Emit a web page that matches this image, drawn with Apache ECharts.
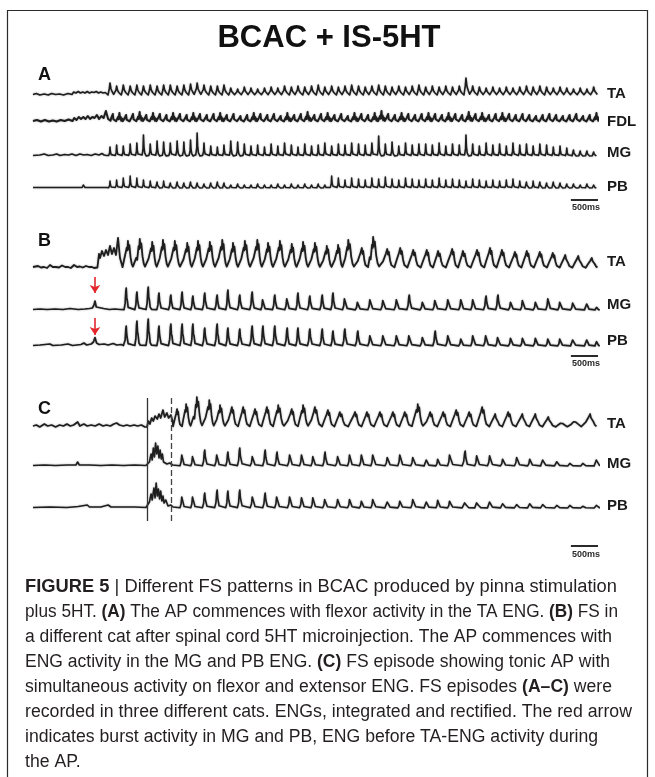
<!DOCTYPE html>
<html>
<head>
<meta charset="utf-8">
<script src="https://cdn.jsdelivr.net/npm/echarts/dist/echarts.min.js"></script>
<style>
html,body{margin:0;padding:0;background:#fff}
#fig{width:655px;height:777px}
</style>
</head>
<body>
<div id="fig"></div>
<script>
// Integrated, rectified ENG records (time in ms, amplitude in display units).
// Each trace: irregular pre-burst vertices, then one value per burst peak.
const SPAN_MS = 10000;

// ---- Panel A ----
const A_times = [1363,1480,1598,1720,1838,1955,2075,2196,2312,2430,
  2551,2670,2788,2905,3026,3146,3263,3380,3500,3622,
  3740,3858,3976,4097,4215,4333,4452,4573,4690,4810,
  4930,5048,5165,5286,5405,5522,5640,5762,5880,5998,
  6118,6236,6355,6474,6593,6712,6830,6950,7068,7188,
  7306,7425,7545,7663,7782,7900,8020,8139,8258,8377,
  8495,8615,8734,8852,8971,9090,9209,9328,9447,9566,
  9685,9804,9923];
const A_TA_pre = [[0,0.5],[60,1.5],[120,0],[200,1],[270,0],[330,1.5],[400,0.5],[470,1],[540,0],[620,1.5],[690,0.5],[720,3],[760,2],[800,3.5],[840,2],[880,3],[920,2],[960,3.5],[1000,2],[1040,3],[1080,2.5],[1120,3.5],[1160,2],[1200,3],[1240,2],[1280,2.5],[1310,1]];
const A_TA_peaks = [12,9,10,9,10,9,10,9,10,10,9,10,11,12,10,9,9,10,
  7,6,8,7,6,7,8,7,9,8,
  9,8,9,10,8,9,8,9,10,9,8,9,10,9,8,9,8,9,10,
  8,9,8,9,8,9,17,
  9,8,7,8,7,8,7,8,9,8,9,8,7,8,7,6,7,6,8];
const A_FDL_pre = [[0,1],[70,2],[140,0.5],[210,2],[280,0.5],[350,1.5],[420,0.5],[490,2],[560,1],[630,2.5],[700,1],[730,4],[770,2],[810,5],[850,3],[890,5],[930,3],[970,6],[1010,3],[1050,5],[1090,4],[1130,7],[1170,3],[1210,6],[1250,4],[1290,11],[1330,3]];
const A_FDL_peaks = [8,9,7,8,10,7,9,8,7,9,8,7,9,8,7,8,9,7,
  8,6,7,9,8,7,8,6,9,7,8,10,7,8,9,7,8,6,9,8,7,9,11,8,7,9,8,7,8,
  9,8,7,9,8,7,10,8,9,7,8,9,8,7,8,7,6,7,8,7,6,7,8,6,7,9];
const A_MG_pre = [[0,0.5],[120,1],[200,2],[270,0.5],[350,1],[420,2],[480,0.5],[560,1.5],[630,1],[690,2],[760,0.5],[830,2],[900,1],[960,1.5],[1030,0.5],[1100,2],[1170,1],[1220,2.5],[1260,1],[1300,0.5]];
const A_MG_peaks = [9,11,10,12,13,21,12,15,14,13,15,14,16,23,13,10,9,11,
  15,14,12,10,11,9,12,10,13,11,9,12,10,11,13,10,12,11,13,12,11,13,20,12,14,10,13,11,12,
  12,11,13,10,12,11,21,12,10,13,11,12,10,13,11,12,10,12,11,9,10,8,6,5,5,4];
const A_PB_pre = [[0,0.5],[100,0.5],[124,2.5],[150,0.5],[280,0.5],[300,2.5],[330,0.5],[480,0.5],[510,2],[540,0.5],[680,0.5],[700,2.5],[730,0.5],[870,0.5],[890,3],[920,0.5],[1080,0.5],[1100,2.5],[1130,0.5],[1260,0.5],[1270,2],[1300,0.5]];
const A_PB_peaks = [7,8,10,12,10,8,7,6,7,5,6,5,6,5,4,5,6,5,
  3,4,3,3,4,3,3,4,3,4,3,4,3,4,3,
  12,10,8,10,9,8,10,9,11,9,8,10,9,8,
  9,8,10,8,9,8,7,9,8,7,8,7,8,9,7,6,7,6,5,6,5,4,4,3,4,3];

// ---- Panel B ----
const B_TA_times = [1680,1890,2110,2300,2510,2730,2920,3130,3350,3540,
  3750,3970,4160,4370,4580,4780,4990,5200,5400,5580,
  5820,6020,6270,6500,6730,6970,7170,7420,7610,7860,
  8090,8300,8530,8740,8970,9200,9420,9650,9890];
const B_TA_pre = [[0,1],[89,2],[140,0.5],[195,1],[250,0],[301,3],[350,1],[407,1],[460,0.5],[513,2.5],[570,1],[620,1],[670,0],[726,3],[780,1],[832,1.5],[880,0.5],[938,2],[990,1],[1044,1],[1080,0],[1115,2],[1140,0.5],
  [1151,0],[1168,14],[1186,10],[1221,17],[1257,12],[1292,18],[1328,13],[1363,22],[1398,14],[1434,20],[1469,13],[1505,30],[1540,10],[1575,3]];
const B_TA_peaks = [27,29,26,28,27,25,27,26,28,25,
  27,28,25,27,24,26,25,22,23,28,
  20,31,19,20,18,18,17,19,17,18,
  20,18,16,17,16,15,13,12,10];
const B_ext_times = [1650,1840,2040,2230,2440,2640,2830,3040,3260,3450,
  3660,3880,4070,4280,4500,4690,4900,5120,5310,5520,
  5750,5970,6200,6440,6660,6900,7120,7350,7580,7790,
  8020,8230,8460,8670,8900,9120,9330,9560,9810,9980];
const B_MG_pre = [[0,0.5],[124,1],[250,0.5],[390,1],[530,0.5],[655,1.5],[800,0.5],[920,1],[1000,1.5],[1050,2],[1080,5],[1097,9],[1120,3],[1150,1],[1250,1.5],[1350,0.5],[1450,1],[1540,0.5]];
const B_MG_peaks = [22,18,23,17,15,18,14,17,15,20,15,18,12,15,13,17,14,15,17,13,
  9,12,11,12,15,9,11,12,12,12,14,15,9,11,9,13,9,8,7,3];
const B_PB_pre = [[0,0.5],[124,1],[300,2],[350,0.5],[500,1],[620,2],[700,0.5],[850,1.5],[900,3],[950,1],[1030,2],[1070,4],[1097,8.5],[1125,3],[1170,1.5],[1260,2],[1330,1],[1420,2.5],[1480,1],[1560,1.5],[1600,0.5]];
const B_PB_peaks = [20,25,27,20,22,22,22,18,22,18,17,20,20,20,18,18,17,17,15,17,
  15,12,12,12,12,10,15,12,8,12,12,10,9,9,9,8,8,7,7,5];
const B_arrow_ms = 1097;

// ---- Panel C ----
const C_TA_times = [2550,2710,2900,3120,3310,3520,3720,3930,4140,4340,
  4580,4780,4990,5220,5430,5700,5910,6140,6370,6580,
  6810,7030,7260,7490,7720,7950,8180,8410,8660,8890,
  9120,9360,9590,9860];
const C_TA_pre = [[0,1],[60,2],[120,0],[200,3],[260,1],[330,2],[400,0],[470,2],[540,1],[600,3],[660,1],[720,2],[790,5],[830,1],[900,3],[960,1],[1030,2],[1100,1],[1170,3],[1240,1],[1300,2],[1370,1],[1430,3],[1480,4],[1530,2],[1600,1],[1660,2],[1720,1],[1790,2],[1850,1],[1920,2],[1980,0],[2018,0],
  [2040,6],[2070,3],[2100,9],[2130,6],[2160,11],[2200,8],[2230,13],[2260,9],[2300,17],[2330,10],[2370,14],[2400,9],[2440,12],[2470,6]];
const C_TA_peaks = [18,23,30,27,22,20,20,18,20,22,18,22,20,17,15,
  15,15,15,15,15,23,15,15,17,15,20,13,15,13,13,10,5,7,13];
const C_ext_times = [2640,2830,3040,3260,3450,3660,3890,4110,4320,4550,
  4760,4960,5170,5400,5610,5820,6020,6280,6500,6730,
  6970,7170,7380,7650,7860,8090,8320,8570,8800,9030,
  9280,9510,9740,9980];
const C_MG_pre = [[0,0.5],[200,1],[400,0.5],[600,1],[760,1],[790,4],[820,1],[1000,1],[1200,0.5],[1400,1],[1600,0.5],[1800,1],[2000,0.5],[2018,0],
  [2060,4],[2090,12],[2110,6],[2130,18],[2150,9],[2170,23],[2190,12],[2210,20],[2230,8],[2250,16],[2270,7],[2290,12],[2310,4],[2330,6],[2370,2],[2420,3],[2470,1]];
const C_MG_peaks = [13,11,16,13,14,18,11,16,14,13,13,11,14,11,13,
  13,13,10,13,10,7,8,13,15,12,12,8,10,8,7,5,3,3,7];
const C_PB_pre = [[0,0.5],[300,1],[600,0.5],[800,1.5],[960,3],[1000,1],[1200,1],[1330,3],[1380,1],[1600,1],[1800,1],[2000,0.5],[2018,0],
  [2060,6],[2090,14],[2110,8],[2140,20],[2160,10],[2180,25],[2200,12],[2220,19],[2240,9],[2260,17],[2280,7],[2300,12],[2320,5],[2350,8],[2390,2],[2440,3],[2480,1]];
const C_PB_peaks = [13,13,15,18,17,18,13,15,13,13,12,12,10,10,10,
  8,10,7,8,10,7,9,8,6,6,7,5,4,5,4,3,3,2,3];
const C_marks_ms = [2018, 2443];

const SCALE_BAR_MS = [9520, 10000];
const SCALE_BAR_TEXT = '500ms';

// Burst waveform templates: [offset as fraction of the cycle, fraction of peak]
const SHAPE = {
  saw:   [[-0.3,0],[-0.1,0.55],[0,1],[0.15,0.5],[0.35,0.25],[0.55,0.05]],
  noisy: [[-0.35,0.15],[-0.22,0.55],[-0.15,0.3],[-0.05,0.75],[0,1],[0.08,0.35],[0.16,0.6],[0.26,0.15],[0.36,0.4],[0.5,0.1]],
  spike: [[-0.2,0.05],[-0.06,0.35],[0,1],[0.07,0.45],[0.18,0.15],[0.4,0]],
  spike2:[[-0.2,0.02],[-0.1,0.3],[-0.04,0.85],[0,1],[0.05,0.55],[0.1,0.45],[0.18,0.12],[0.3,0.03]],
  wide:  [[-0.45,0.03],[-0.3,0.35],[-0.22,0.28],[-0.1,0.75],[-0.04,0.65],[0,1],[0.06,0.7],[0.12,0.85],[0.22,0.4],[0.32,0.15],[0.42,0.05]]
};

function buildTrace(pre, times, peaks, lag, shape) {
  const pts = pre.map(p => p.slice());
  const n = Math.min(times.length, peaks.length);
  for (let i = 0; i < n; i++) {
    const t = times[i] + lag;
    const prevGap = i > 0 ? times[i] - times[i - 1] : times[1] - times[0];
    const nextGap = i < n - 1 ? times[i + 1] - times[i] : prevGap;
    shape.forEach(([f, a]) => {
      pts.push([t + (f < 0 ? f * prevGap : f * nextGap), a * peaks[i]]);
    });
  }
  return pts;
}

// Layout of each record row: baseline y (px), headroom above baseline (px)
const rows = [
  {label:'TA',  base:95,  room:20, labelY:94,  lw:1.6, data: buildTrace(A_TA_pre, A_times, A_TA_peaks, 0, SHAPE.saw)},
  {label:'FDL', base:122, room:16, labelY:122, lw:2.0, data: buildTrace(A_FDL_pre, A_times, A_FDL_peaks, 50, SHAPE.noisy)},
  {label:'MG',  base:156, room:26, labelY:153, lw:1.6, data: buildTrace(A_MG_pre, A_times, A_MG_peaks, 0, SHAPE.spike)},
  {label:'PB',  base:188, room:16, labelY:187, lw:1.5, data: buildTrace(A_PB_pre, A_times, A_PB_peaks, 0, SHAPE.spike)},
  {label:'TA',  base:268, room:36, labelY:262, lw:1.8, data: buildTrace(B_TA_pre, B_TA_times, B_TA_peaks, 0, SHAPE.wide)},
  {label:'MG',  base:310, room:36, labelY:305, lw:1.7, data: buildTrace(B_MG_pre, B_ext_times, B_MG_peaks, 0, SHAPE.spike2), arrow:[33,17]},
  {label:'PB',  base:346, room:32, labelY:341, lw:1.7, data: buildTrace(B_PB_pre, B_ext_times, B_PB_peaks, 0, SHAPE.spike2), arrow:[28,11]},
  {label:'TA',  base:427, room:34, labelY:424, lw:1.7, data: buildTrace(C_TA_pre, C_TA_times, C_TA_peaks, 0, SHAPE.wide)},
  {label:'MG',  base:466, room:28, labelY:464, lw:1.6, data: buildTrace(C_MG_pre, C_ext_times, C_MG_peaks, 0, SHAPE.spike2)},
  {label:'PB',  base:508, room:28, labelY:506, lw:1.6, data: buildTrace(C_PB_pre, C_ext_times, C_PB_peaks, 0, SHAPE.spike2)}
];
const scaleBars = [{y:200, textY:208}, {y:356, textY:364}, {y:546, textY:555}];

const LEFT = 33, PLOT_W = 565;
const INK = '#1e1e1e';
const FONT = '"Liberation Sans", Arial, Helvetica, sans-serif';

const grid = [], xAxis = [], yAxis = [], series = [], graphic = [];
function addGrid(top, height, ymin, ymax) {
  grid.push({left: LEFT, top: top, width: PLOT_W, height: height, containLabel: false});
  const gi = grid.length - 1;
  xAxis.push({type:'value', gridIndex: gi, min: 0, max: SPAN_MS, show: false});
  yAxis.push({type:'value', gridIndex: gi, min: ymin, max: ymax, show: false});
  return gi;
}

rows.forEach(r => {
  const gi = addGrid(r.base - r.room, r.room + 4, -4, r.room);
  const s = {
    type:'line', xAxisIndex: gi, yAxisIndex: gi, data: r.data,
    symbol:'none', smooth: false, silent: true,
    lineStyle:{color: INK, width: r.lw, join:'round', shadowBlur: 2, shadowColor:'rgba(0,0,0,0.35)'}
  };
  if (r.arrow) {
    s.markLine = {
      silent: true, animation: false, symbol: ['none','arrow'], symbolSize: 8,
      label: {show: false},
      lineStyle: {color:'#e3262b', width: 1.6, type:'solid', shadowBlur: 0},
      data: [[{coord:[B_arrow_ms, r.arrow[0]]}, {coord:[B_arrow_ms, r.arrow[1]]}]]
    };
  }
  series.push(s);
  graphic.push({type:'text', x: 607, y: r.labelY, silent: true,
    style:{text: r.label, fill:'#1a1a1a', font:'bold 15px ' + FONT, align:'left', verticalAlign:'middle'}});
});

// scale bars
scaleBars.forEach(b => {
  const gi = addGrid(b.y - 3, 6, -1, 1);
  series.push({type:'line', xAxisIndex: gi, yAxisIndex: gi, symbol:'none', silent: true,
    data: [[SCALE_BAR_MS[0], 0], [SCALE_BAR_MS[1], 0]],
    lineStyle:{color:'#2a2a2a', width: 2}});
  graphic.push({type:'text', x: 586, y: b.textY, silent: true,
    style:{text: SCALE_BAR_TEXT, fill:'#2a2a2a', font:'bold 9px ' + FONT, align:'center', verticalAlign:'middle'}});
});

// onset markers in panel C
{
  const gi = addGrid(398, 123, 0, 1);
  series.push({type:'line', xAxisIndex: gi, yAxisIndex: gi, data: [], symbol:'none', silent: true,
    markLine: {silent: true, animation: false, symbol:'none', label:{show:false},
      data: [
        {xAxis: C_marks_ms[0], lineStyle:{color:'#333', width:1.3, type:'solid'}},
        {xAxis: C_marks_ms[1], lineStyle:{color:'#444', width:1.3, type:[6,3]}}
      ]}});
}

// frame, title, panel letters
graphic.push({type:'rect', silent: true, shape:{x:7.5, y:10.5, width:640, height:800},
  style:{fill:'none', stroke:'#2b2b2b', lineWidth:1.2}});
graphic.push({type:'text', x: 329, y: 38, silent: true,
  style:{text:'BCAC + IS-5HT', fill:'#111', font:'bold 31px ' + FONT, align:'center', verticalAlign:'middle'}});
[['A',75],['B',241],['C',409]].forEach(([t, y]) => {
  graphic.push({type:'text', x: 38, y: y, silent: true,
    style:{text: t, fill:'#111', font:'bold 18px ' + FONT, align:'left', verticalAlign:'middle'}});
});

// caption: full lines are set to the column width (px); short lines use the mean scale
const captionLines = [
  '{b|FIGURE 5} | Different FS patterns in BCAC produced by pinna stimulation',
  'plus 5HT. {b|(A)} The AP commences with flexor activity in the TA ENG. {b|(B)} FS in',
  'a different cat after spinal cord 5HT microinjection. The AP commences with',
  'ENG activity in the MG and PB ENG. {b|(C)} FS episode showing tonic AP with',
  'simultaneous activity on flexor and extensor ENG. FS episodes {b|(A\u2013C)} were',
  'recorded in three different cats. ENGs, integrated and rectified. The red arrow',
  'indicates burst activity in MG and PB, ENG before TA-ENG activity during',
  'the AP.'
];
const captionWidths = [592, 593, 587, 585, 587, 607, null, null];
const CAP_SIZE = 18;
const measureCtx = document.createElement('canvas').getContext('2d');
function richWidth(line) {
  let w = 0;
  line.split(/(\{b\|[^}]*\})/).forEach(part => {
    if (!part) return;
    const m = part.match(/^\{b\|([^}]*)\}$/);
    measureCtx.font = (m ? 'bold ' : '') + CAP_SIZE + 'px ' + FONT;
    w += measureCtx.measureText(m ? m[1] : part).width;
  });
  return w;
}
const fitScales = captionLines.map((line, i) =>
  captionWidths[i] ? Math.min(1.08, Math.max(0.85, captionWidths[i] / richWidth(line))) : null);
const fitted = fitScales.filter(s => s !== null);
const meanScale = fitted.reduce((a, b) => a + b, 0) / fitted.length;
captionLines.forEach((line, i) => {
  const sx = fitScales[i] !== null ? fitScales[i] : meanScale;
  graphic.push({type:'text', x: 25, y: 587 + i * 25, silent: true, scaleX: sx,
    style:{text: line, fill:'#231f20', fontSize: CAP_SIZE, fontFamily: FONT, fontWeight: 'normal',
      align:'left', verticalAlign:'middle',
      rich:{b:{fontWeight:'bold', fontSize: CAP_SIZE, fontFamily: FONT, fill:'#231f20'}}}});
});

const chart = echarts.init(document.getElementById('fig'), null, {renderer:'canvas'});
chart.setOption({animation: false, grid, xAxis, yAxis, series, graphic});
</script>
</body>
</html>
